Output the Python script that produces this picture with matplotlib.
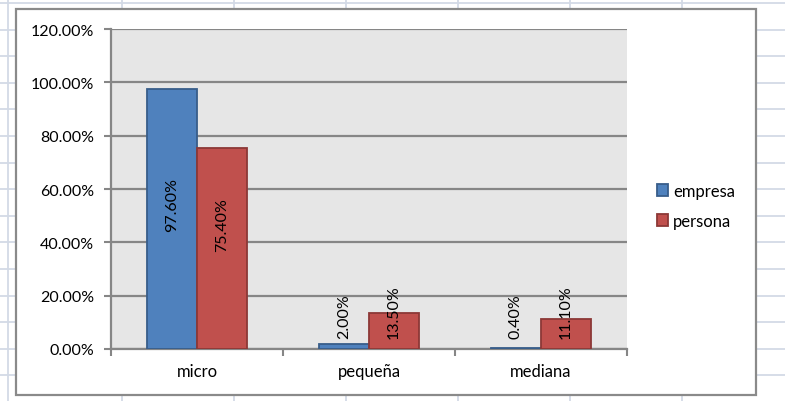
import matplotlib
matplotlib.use("Agg")
import matplotlib.pyplot as plt
from matplotlib.patches import Rectangle
from matplotlib.lines import Line2D
import numpy as np

plt.rcParams['font.family'] = ['Lato', 'DejaVu Sans']

# tamaño de empresa segun tipo de cliente
categories = ["micro", "pequeña", "mediana"]
empresa = [97.6, 2.0, 0.4]
persona = [75.4, 13.5, 11.1]
series_names = ["empresa", "persona"]
y_ticks = [0, 20, 40, 60, 80, 100, 120]

W, H = 785, 402
fig = plt.figure(figsize=(W / 100, H / 100), dpi=100)
fig.patch.set_facecolor("white")

def fx(px):
    return px / W

def fy(py):
    return 1 - py / H

# hoja de calculo de fondo
sheet = "#d3dae6"
for k in range(16):
    y = 4 + 26.6 * k
    fig.add_artist(Line2D([0, 1], [fy(y), fy(y)], color=sheet, lw=1.3, zorder=0))
for x in [8, 122, 234, 346, 458, 569.5, 681.5]:
    fig.add_artist(Line2D([fx(x), fx(x)], [0, 1], color=sheet, lw=1.3, zorder=0))

# marco del grafico
fig.add_artist(Rectangle((fx(16), fy(396)), fx(756) - fx(16), fy(10) - fy(396),
                         facecolor="white", edgecolor="#8a8a8a", lw=1.6, zorder=1))

ax = fig.add_axes([fx(111), fy(350), fx(627) - fx(111), fy(30) - fy(350)], zorder=2)
ax.set_facecolor("#e6e6e6")

x = np.arange(len(categories))
w = 50 / 172
b1 = ax.bar(x - w / 2, empresa, w, color="#4f81bd", edgecolor="#385d8a", lw=1.3,
            label=series_names[0], zorder=3)
b2 = ax.bar(x + w / 2, persona, w, color="#c0504d", edgecolor="#8c3836", lw=1.3,
            label=series_names[1], zorder=3)

# etiquetas de datos
inside_centre = {(0, 0): 54.4, (0, 1): 46.9}
for s, vals in enumerate([empresa, persona]):
    for i, v in enumerate(vals):
        xc = x[i] + (s - 0.5) * w
        txt = f"{v:.2f}%"
        if (i, s) in inside_centre:
            ax.text(xc, inside_centre[(i, s)], txt, rotation=90, ha="center",
                    va="center", fontsize=11.5, color="black", zorder=4)
        else:
            ax.text(xc, 4.3, txt, rotation=90, ha="center", va="bottom",
                    fontsize=11.5, color="black", zorder=4)

ax.set_ylim(0, 120)
ax.set_xlim(-0.5, len(categories) - 0.5)
ax.set_yticks(y_ticks)
ax.set_yticklabels([f"{t:.2f}%" for t in y_ticks])
ax.set_xticks(np.arange(-0.5, len(categories), 1.0))
ax.set_xticklabels([])
ax.set_xticks(x, minor=True)
ax.set_xticklabels(categories, minor=True)
ax.tick_params(axis="x", which="minor", length=0, pad=10, labelsize=12)
ax.tick_params(axis="x", which="major", length=5, width=1.5, color="#868686")
ax.tick_params(axis="y", length=5, width=1.5, color="#868686", pad=7, labelsize=11.5)

ax.grid(axis="y", color="#868686", lw=1.6, zorder=1)
ax.set_axisbelow(True)
for side in ["top", "right"]:
    ax.spines[side].set_visible(False)
for side in ["left", "bottom"]:
    ax.spines[side].set_color("#868686")
    ax.spines[side].set_linewidth(1.6)

leg = fig.legend(handles=[b1, b2], loc="upper left",
                 bbox_to_anchor=(fx(650), fy(177)), frameon=False, fontsize=12,
                 handlelength=0.7, handleheight=0.7, handletextpad=0.3,
                 labelspacing=0.85, borderaxespad=0)

fig.savefig("out.png", dpi=100)
